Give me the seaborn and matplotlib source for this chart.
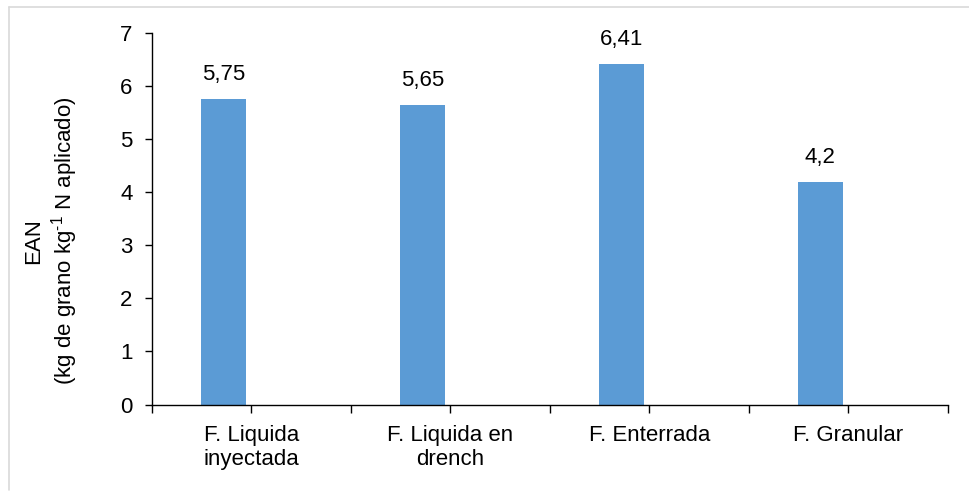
import pandas as pd
import matplotlib.pyplot as plt
from matplotlib.lines import Line2D
from matplotlib.ticker import MultipleLocator
import seaborn as sns

# datos del grafico
categorias = ["F. Liquida\ninyectada", "F. Liquida en\ndrench", "F. Enterrada", "F. Granular"]
ean = [5.75, 5.65, 6.41, 4.2]
etiquetas = ["5,75", "5,65", "6,41", "4,2"]
# Excel deja sitio para una segunda serie vacia (valores 0), por eso la barra va a la izquierda
vacia = [0, 0, 0, 0]

data = pd.concat([
    pd.DataFrame({"categoria": categorias, "EAN": ean, "serie": "EAN"}),
    pd.DataFrame({"categoria": categorias, "EAN": vacia, "serie": "vacia"}),
])

sns.set_theme(style="white")
plt.rcParams["font.family"] = ["Liberation Sans", "DejaVu Sans"]
plt.rcParams["mathtext.fontset"] = "custom"
plt.rcParams["mathtext.rm"] = "Liberation Sans"
plt.rcParams["mathtext.it"] = "Liberation Sans:italic"
for k in ["text.color", "axes.labelcolor", "xtick.color", "ytick.color"]:
    plt.rcParams[k] = "black"
fs = 16

fig = plt.figure(figsize=(9.7, 4.93), dpi=100)
ax = fig.add_axes([0.1567, 0.1795, 0.8206, 0.7535])

sns.barplot(data=data, x="categoria", y="EAN", hue="serie",
            palette=["#5B9BD5", "white"], width=0.566, gap=0.21,
            legend=False, ax=ax, saturation=1, linewidth=0)

ax.bar_label(ax.containers[0], labels=etiquetas, padding=10, fontsize=fs, color="black")

ax.set_xlim(-0.5, 3.5)
ax.set_ylim(0, 7)
ax.yaxis.set_major_locator(MultipleLocator(1))
ax.xaxis.set_minor_locator(MultipleLocator(1, offset=0.5))
ax.set_xlabel("")
ax.set_ylabel("EAN\n(kg de grano kg$^{\\text{-1}}$ N aplicado)", fontsize=fs,
              linespacing=1.2, color="black")
ax.yaxis.set_label_coords(-0.091, 0.44)

for s in ["top", "right"]:
    ax.spines[s].set_visible(False)
for s in ["left", "bottom"]:
    ax.spines[s].set_color("black")
    ax.spines[s].set_linewidth(1.0)

ax.tick_params(axis="y", which="major", direction="out", length=5, width=1,
               color="black", labelcolor="black", labelsize=fs, pad=9, left=True)
ax.tick_params(axis="x", which="both", direction="out", length=6, width=1,
               color="black", bottom=True)
ax.tick_params(axis="x", which="major", labelsize=fs, labelcolor="black", pad=9)
for t in ax.get_xticklabels():
    t.set_linespacing(1.15)

# borde gris del area del grafico
fig.add_artist(Line2D([9 / 970, 1], [1 - 7 / 493, 1 - 7 / 493], color="#D9D9D9", lw=1.2))
fig.add_artist(Line2D([9 / 970, 9 / 970], [1 - 7 / 493, 3 / 493], color="#D9D9D9", lw=1.2))

fig.savefig("out.png", dpi=100, facecolor="white")
